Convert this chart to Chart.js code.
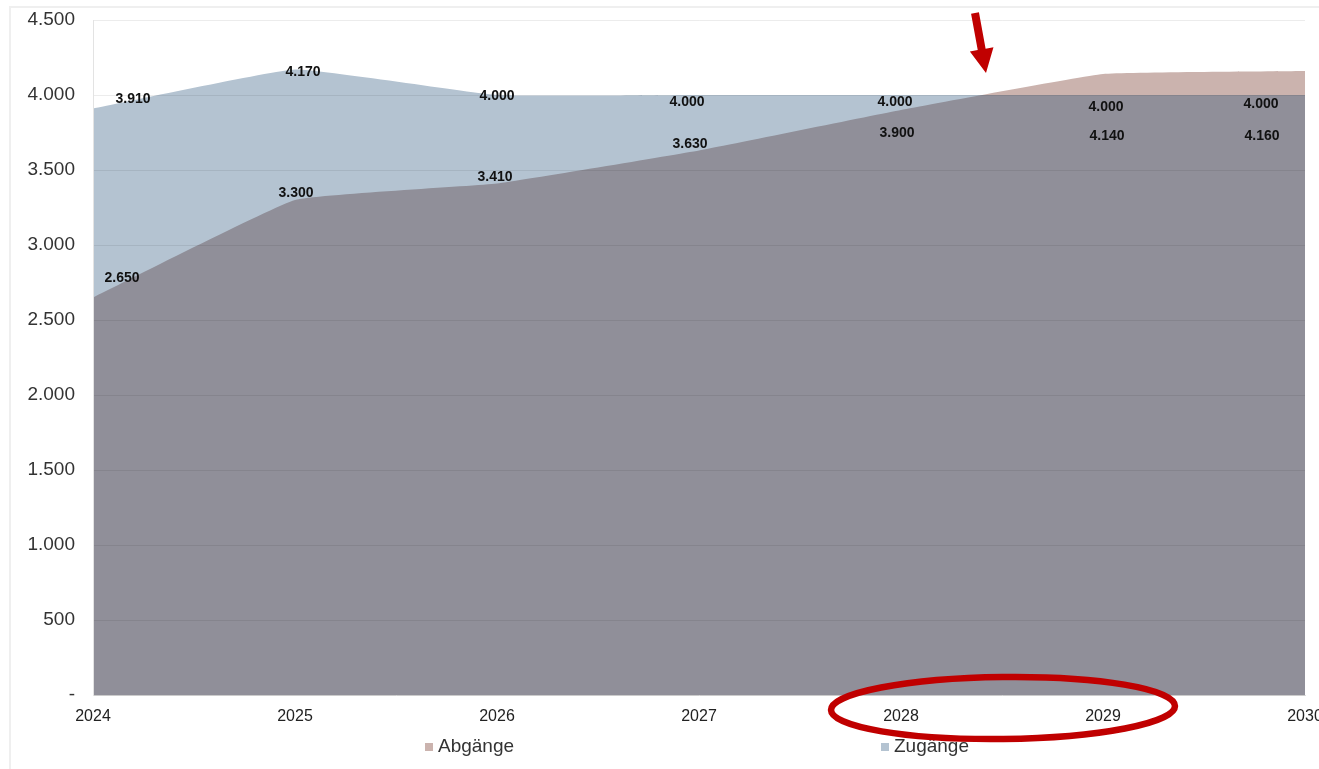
<!DOCTYPE html>
<html lang="de">
<head>
<meta charset="utf-8">
<title>Abgänge und Zugänge 2024–2030</title>
<script src="https://cdn.jsdelivr.net/npm/chart.js@4.4.1/dist/chart.umd.min.js"></script>
<style>
  html, body { margin: 0; padding: 0; background: #fff; }
  #wrap { position: relative; width: 1319px; height: 769px; overflow: hidden; }
  #frame { position: absolute; left: 9px; top: 6px; right: 0; bottom: 0;
           border-top: 2px solid #efefef; border-left: 2px solid #efefef; pointer-events: none; }
</style>
</head>
<body>
<div id="wrap">
  <canvas id="chart"></canvas>
  <div id="frame"></div>
</div>
<script>
// values
const years = ['2024', '2025', '2026', '2027', '2028', '2029', '2030'];
const zugaenge = [3910, 4170, 4000, 4000, 4000, 4000, 4000];
const abgaenge = [2650, 3300, 3410, 3630, 3900, 4140, 4160];
const yTickValues = [0, 500, 1000, 1500, 2000, 2500, 3000, 3500, 4000, 4500];

// where the value labels sit relative to their point (px)
const zuLabelShift = [[40, -9], [8, 3], [0, 1], [-12, 7], [-6, 7], [3, 12], [-44, 9]];
const abLabelShift = [[29, -19], [1, -7], [-2, -6], [-9, -6], [-4, 23], [4, 62], [-43, 65]];

const BLUE = '#b4c3d1';
const PINK = '#cbb3ae';
const OVERLAP = '#908f99';
const RED = '#c00000';
const FONT = '"Liberation Sans", Arial, sans-serif';

function fmt(v) {
    if (v === 0) return '-';
    return String(v).replace(/\B(?=(\d{3})+(?!\d))/g, '.');
}

// zugänge drawn first, then the overlap only on top of it, then the
// pink part only where nothing is painted yet
const blend = {
    id: 'blend',
    afterDatasetDraw(chart, args) {
        const key = chart.data.datasets[args.index].key;
        const next = {zu: 'source-atop', abDark: 'destination-over', ab: 'source-over'}[key];
        chart.ctx.globalCompositeOperation = next;
    },
    afterDatasetsDraw(chart) {
        chart.ctx.globalCompositeOperation = 'source-over';
    }
};

const valueLabels = {
    id: 'valueLabels',
    afterDatasetsDraw(chart) {
        const ctx = chart.ctx;
        ctx.save();
        ctx.font = 'bold 14px ' + FONT;
        ctx.fillStyle = '#111';
        ctx.textAlign = 'center';
        ctx.textBaseline = 'middle';
        chart.data.datasets.forEach((ds, i) => {
            let shift = null;
            if (ds.key === 'zu') shift = zuLabelShift;
            if (ds.key === 'ab') shift = abLabelShift;
            if (!shift) return;
            chart.getDatasetMeta(i).data.forEach((pt, j) => {
                ctx.fillText(fmt(ds.data[j]), pt.x + shift[j][0], pt.y + shift[j][1]);
            });
        });
        ctx.restore();
    }
};

const legendAndMarks = {
    id: 'legendAndMarks',
    afterDraw(chart) {
        const ctx = chart.ctx;
        ctx.save();
        // legend
        const items = [
            {text: 'Abgänge', color: PINK, x: 425},
            {text: 'Zugänge', color: BLUE, x: 881}
        ];
        ctx.font = '19px ' + FONT;
        ctx.textBaseline = 'middle';
        ctx.textAlign = 'left';
        items.forEach(it => {
            ctx.fillStyle = it.color;
            ctx.fillRect(it.x, 743, 8, 8);
            ctx.fillStyle = '#333';
            ctx.fillText(it.text, it.x + 13, 747);
        });

        // red arrow
        const tail = {x: 975, y: 13};
        const tip = {x: 986, y: 73};
        const dx = tip.x - tail.x, dy = tip.y - tail.y;
        const len = Math.hypot(dx, dy);
        const ux = dx / len, uy = dy / len;
        const nx = -uy, ny = ux;
        const headLen = 24, headW = 12, shaftW = 4;
        const bx = tip.x - ux * headLen, by = tip.y - uy * headLen;
        ctx.fillStyle = RED;
        ctx.beginPath();
        ctx.moveTo(tail.x + nx * shaftW, tail.y + ny * shaftW);
        ctx.lineTo(bx + nx * shaftW, by + ny * shaftW);
        ctx.lineTo(bx + nx * headW, by + ny * headW);
        ctx.lineTo(tip.x, tip.y);
        ctx.lineTo(bx - nx * headW, by - ny * headW);
        ctx.lineTo(bx - nx * shaftW, by - ny * shaftW);
        ctx.lineTo(tail.x - nx * shaftW, tail.y - ny * shaftW);
        ctx.closePath();
        ctx.fill();

        // red ellipse round 2028 / 2029
        ctx.strokeStyle = RED;
        ctx.lineWidth = 6.5;
        ctx.beginPath();
        ctx.ellipse(1003, 708, 172, 31, -0.012, 0, Math.PI * 2);
        ctx.stroke();
        ctx.restore();
    }
};

new Chart(document.querySelector('#chart'), {
    type: 'line',
    data: {
        labels: years,
        datasets: [
            {
                key: 'ab',
                label: 'Abgänge',
                data: abgaenge,
                backgroundColor: PINK,
                fill: 'origin',
                order: 1
            },
            {
                key: 'zu',
                label: 'Zugänge',
                data: zugaenge,
                backgroundColor: BLUE,
                fill: 'origin',
                order: 3
            },
            {
                key: 'abDark',
                label: 'overlap',
                data: abgaenge,
                backgroundColor: OVERLAP,
                fill: 'origin',
                order: 2
            }
        ]
    },
    options: {
        responsive: true,
        maintainAspectRatio: false,
        animation: false,
        events: [],
        elements: {
            line: {borderWidth: 0, tension: 0.1},
            point: {radius: 0}
        },
        layout: {padding: {top: 20, right: 14, bottom: 0, left: 0}},
        plugins: {
            legend: {display: false},
            tooltip: {enabled: false}
        },
        scales: {
            x: {
                offset: false,
                grid: {display: false, drawTicks: false},
                border: {display: true, color: '#dcdcdc', z: 1},
                ticks: {
                    color: '#222',
                    font: {family: FONT, size: 16},
                    padding: 12,
                    maxRotation: 0,
                    autoSkip: false
                },
                afterFit(s) {
                    s.height = 74;
                    s.paddingLeft = 0;
                    s.paddingRight = 0;
                }
            },
            y: {
                min: 0,
                max: 4500,
                afterBuildTicks(s) {
                    s.ticks = yTickValues.map(v => ({value: v}));
                },
                grid: {color: 'rgba(0,0,0,0.075)', drawTicks: false, z: 1},
                border: {display: true, color: '#e3e3e3', z: 1},
                ticks: {
                    color: '#333',
                    font: {family: FONT, size: 19},
                    padding: 18,
                    callback: v => fmt(v)
                },
                afterFit(s) {
                    s.width = 93;
                    s.paddingTop = 0;
                    s.paddingBottom = 0;
                }
            }
        }
    },
    plugins: [blend, valueLabels, legendAndMarks]
});
</script>
</body>
</html>
